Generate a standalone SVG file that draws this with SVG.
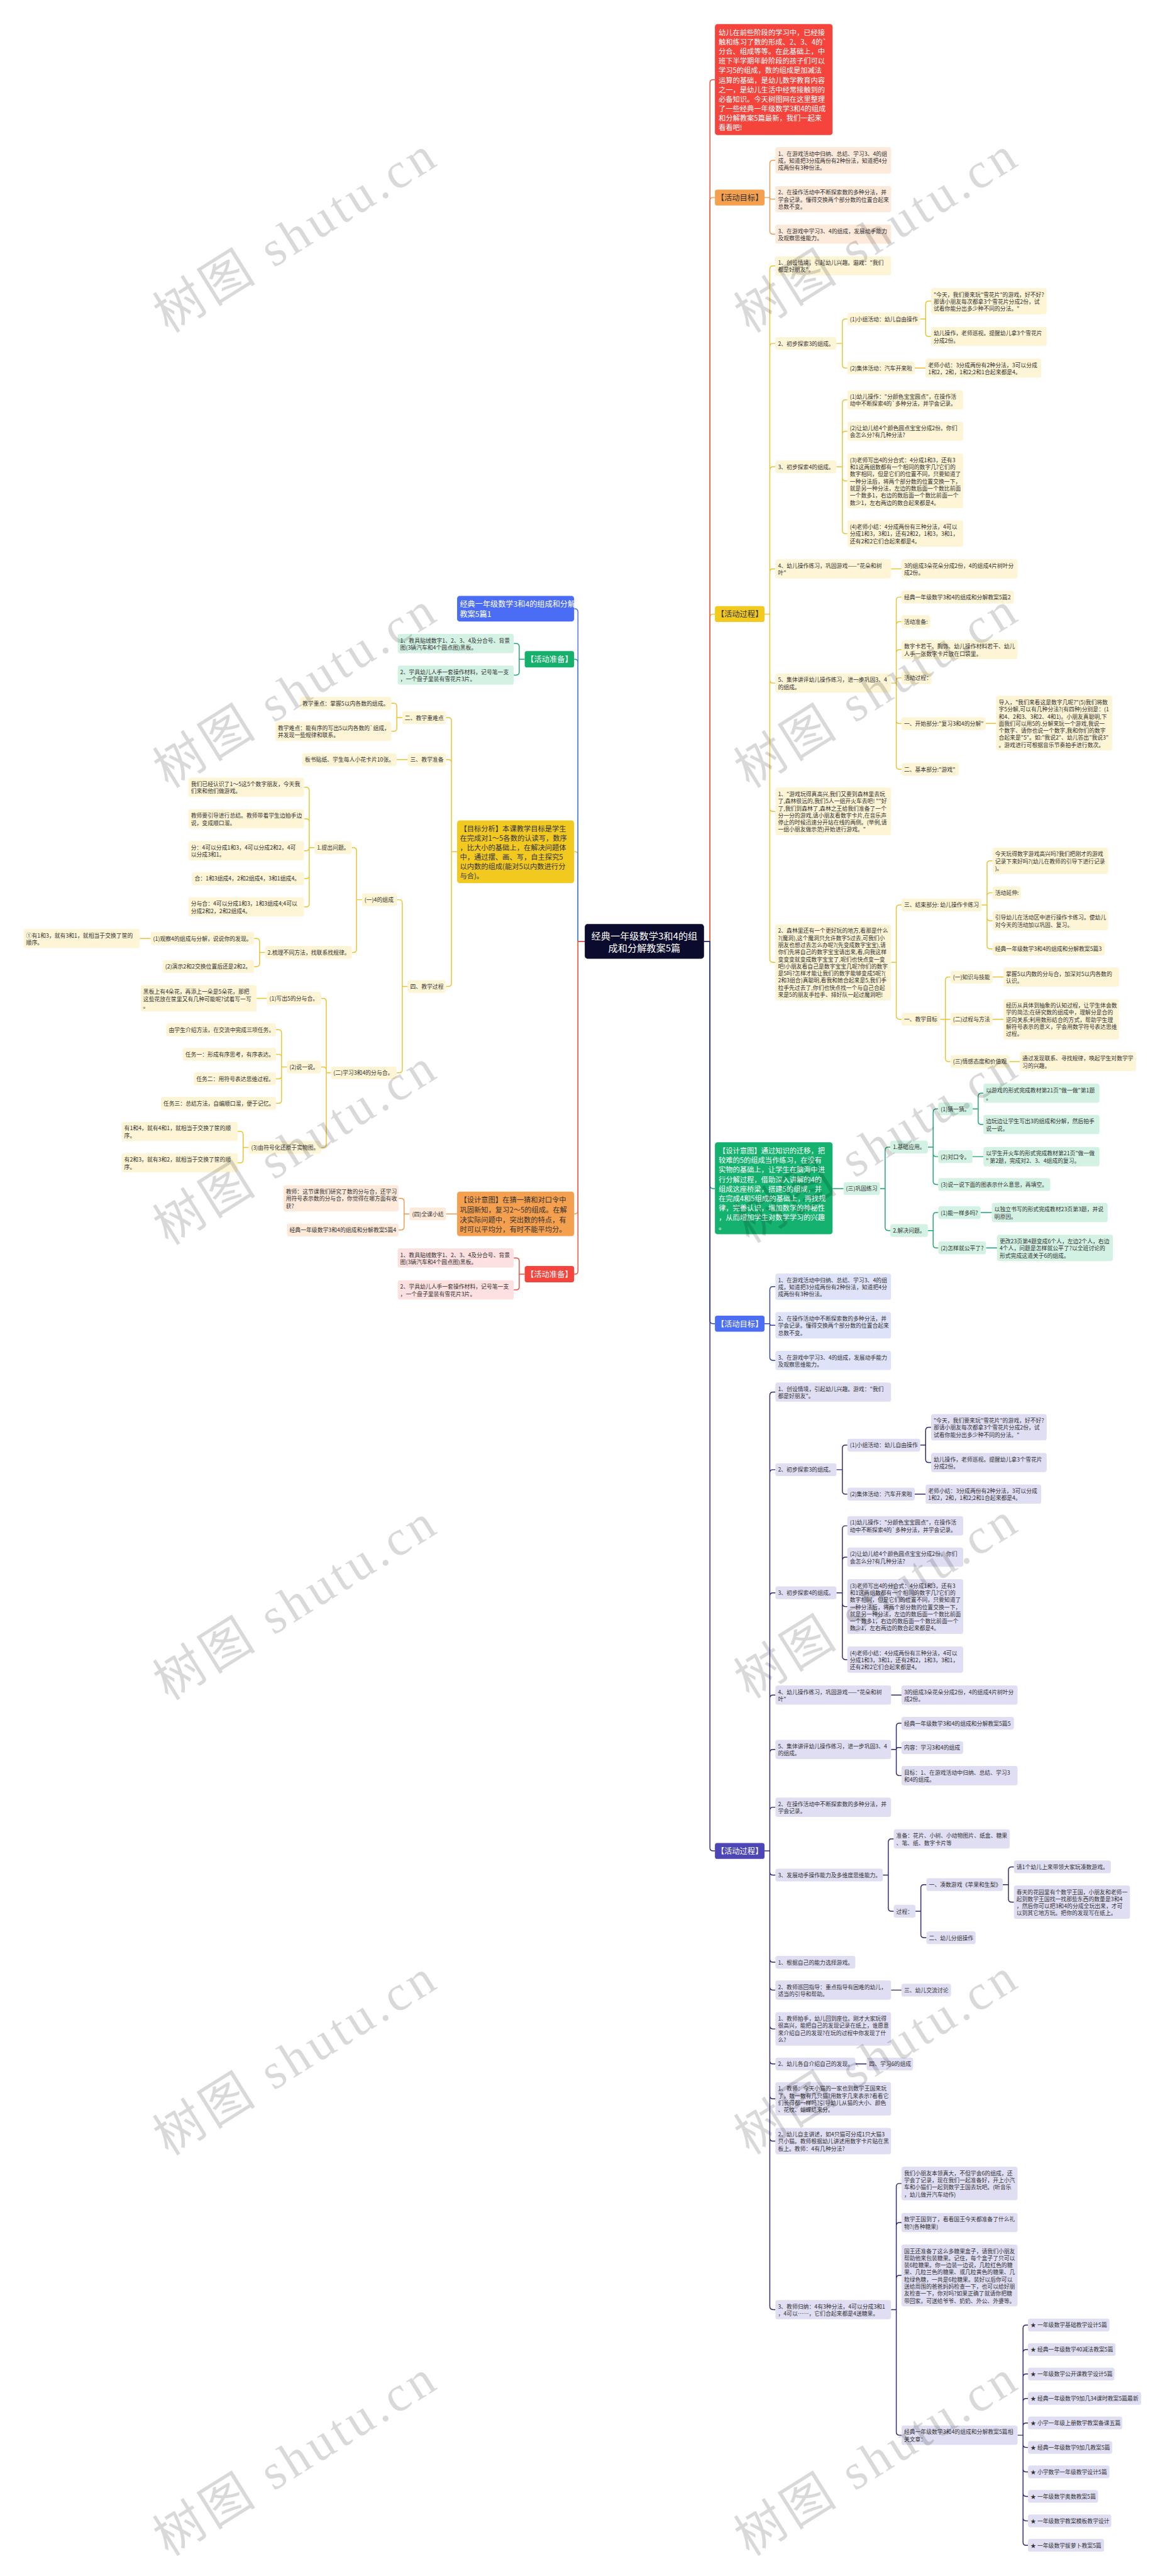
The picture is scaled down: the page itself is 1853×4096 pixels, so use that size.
<svg xmlns="http://www.w3.org/2000/svg" width="1853" height="4096" viewBox="0 0 1853 4096">
<style>
.t{font-family:"Noto Sans CJK SC","Noto Sans",sans-serif;font-size:12.2px;fill:#333;dominant-baseline:central}
.w{fill:#fff}
.big{font-size:15.6px}
.hd{font-size:17px}
.mid{text-anchor:middle}
.c{fill:none;stroke-width:2}
.sr{stroke:#ee4a40}.so{stroke:#ef9a48}.sy{stroke:#ebc22c}.sg{stroke:#17a86c}.sb{stroke:#33449e}.sp{stroke:#2b2873}.sbl{stroke:#4b6df6}
.fo{fill:#fdeadb}.fy{fill:#fdf5d5}.fg{fill:#d3f2e4}.fb{fill:#dfe3fa}.fp{fill:#e0def3}.fr{fill:#fde0e0}
.wm{font-family:"Liberation Serif","Noto Sans CJK SC",serif;font-size:110px;fill:#000;fill-opacity:0.15;text-anchor:middle;dominant-baseline:central}
</style>
<rect width="1853" height="4096" fill="#fff"/>
<g transform="scale(0.72383)">
<g id="connectors">
<path class="c sy" d="M1547 2068H1560V1356Q1560 1349 1567 1349H1571"/>
<path class="c so" d="M1547 2068H1560V441Q1560 434 1567 434H1571"/>
<path class="c sr" d="M1547 2068H1560V182Q1560 175 1567 175H1571"/>
<path class="c sg" d="M1547 2068H1560V2604Q1560 2611 1567 2611H1571"/>
<path class="c sb" d="M1547 2068H1560V2900.8Q1560 2907.8 1567 2907.8H1571"/>
<path class="c sp" d="M1547 2068H1560V4059Q1560 4066 1567 4066H1571"/>
<path class="c sy" d="M1285 2068H1270V1878Q1270 1871 1263 1871H1261.6"/>
<path class="c sg" d="M1285 2068H1270V1455.3Q1270 1448.3 1263 1448.3H1261.6"/>
<path class="c sbl" d="M1285 2068H1270V1344.2Q1270 1337.2 1263 1337.2H1261.6"/>
<path class="c so" d="M1285 2068H1270V2659.6Q1270 2666.6 1263 2666.6H1261.6"/>
<path class="c sr" d="M1285 2068H1270V2792Q1270 2799 1263 2799H1261.6"/>
<path class="c so" d="M1680 434H1691.6V359.3Q1691.6 352.3 1698.6 352.3H1704M1680 434H1691.6Q1691.6 437.4 1695 437.4H1704M1680 434H1691.6V507.4Q1691.6 514.4 1698.6 514.4H1704"/>
<path class="c sy" d="M1680 1349H1691.6V591Q1691.6 584 1698.6 584H1704M1680 1349H1691.6V761.5Q1691.6 754.5 1698.6 754.5H1704M1680 1349H1691.6V1032.5Q1691.6 1025.5 1698.6 1025.5H1704M1680 1349H1691.6V1256.5Q1691.6 1249.5 1698.6 1249.5H1704M1680 1349H1691.6V1493.5Q1691.6 1500.5 1698.6 1500.5H1704M1680 1349H1691.6V1775.5Q1691.6 1782.5 1698.6 1782.5H1704M1680 1349H1691.6V2107Q1691.6 2114 1698.6 2114H1704"/>
<path class="c sy" d="M1838 754.5H1851V707.8Q1851 700.8 1858 700.8H1862M1838 754.5H1851V801.5Q1851 808.5 1858 808.5H1862M2022 700.8H2034V668.5Q2034 661.5 2041 661.5H2046M2022 700.8H2034V732.2Q2034 739.2 2041 739.2H2046M2010 808.5H2034"/>
<path class="c sy" d="M1838 1025.5H1851V885.3Q1851 878.3 1858 878.3H1862M1838 1025.5H1851V954.3Q1851 947.3 1858 947.3H1862M1838 1025.5H1851V1049.5Q1851 1056.5 1858 1056.5H1862M1838 1025.5H1851V1165.2Q1851 1172.2 1858 1172.2H1862M1958 1249.5H1981"/>
<path class="c sy" d="M1958 1500.5H1969.5V1318.6Q1969.5 1311.6 1976.5 1311.6H1981M1958 1500.5H1969.5V1372.6Q1969.5 1365.6 1976.5 1365.6H1981M1958 1500.5H1969.5V1434Q1969.5 1427 1976.5 1427H1981M1958 1500.5H1969.5V1496Q1969.5 1489 1976.5 1489H1981M1958 1500.5H1969.5V1582.5Q1969.5 1589.5 1976.5 1589.5H1981M1958 1500.5H1969.5V1683Q1969.5 1690 1976.5 1690H1981M2166 1589H2189"/>
<path class="c sy" d="M1958 2114H1969.5V1995Q1969.5 1988 1976.5 1988H1981M1958 2114H1969.5V2232Q1969.5 2239 1976.5 2239H1981M2157 1988H2169V1898Q2169 1891 2176 1891H2181M2157 1988H2169V1968.3Q2169 1961.3 2176 1961.3H2181M2157 1988H2169V2015.5Q2169 2022.5 2176 2022.5H2181M2157 1988H2169V2077.4Q2169 2084.4 2176 2084.4H2181M2066 2239H2077.5V2153.3Q2077.5 2146.3 2084.5 2146.3H2088.5M2066 2239H2088.5M2066 2239H2077.5V2325Q2077.5 2332 2084.5 2332H2088.5M2181 2146.3H2205M2181 2239H2205M2218 2332H2241"/>
<path class="c sg" d="M1829.5 2611H1853.6M1933.6 2611H1945V2526.8Q1945 2519.8 1952 2519.8H1956.4M1933.6 2611H1945V2696.2Q1945 2703.2 1952 2703.2H1956.4M2039 2519.8H2050.5V2442.9Q2050.5 2435.9 2057.5 2435.9H2061.8M2039 2519.8H2050.5V2533.8Q2050.5 2540.8 2057.5 2540.8H2061.8M2039 2519.8H2050.5V2595Q2050.5 2602 2057.5 2602H2061.8M2137 2435.9H2149.5V2408.4Q2149.5 2401.4 2156.5 2401.4H2161M2137 2435.9H2149.5V2463.3Q2149.5 2470.3 2156.5 2470.3H2161M2137 2540.8H2161M2039 2703.2H2050.5V2670.7Q2050.5 2663.7 2057.5 2663.7H2061.8M2039 2703.2H2050.5V2734.3Q2050.5 2741.3 2057.5 2741.3H2061.8M2154.8 2663.7H2179.5M2166.8 2741.3H2191"/>
<path class="c sb" d="M1680 2907.8H1691.6V2833.4Q1691.6 2826.4 1698.6 2826.4H1704M1680 2907.8H1691.6Q1691.6 2911.2 1695 2911.2H1704M1680 2907.8H1691.6V2981.5Q1691.6 2988.5 1698.6 2988.5H1704"/>
<path class="c sp" d="M1680 4066H1691.6V3065Q1691.6 3058 1698.6 3058H1704M1680 4066H1691.6V3235.5Q1691.6 3228.5 1698.6 3228.5H1704M1680 4066H1691.6V3506Q1691.6 3499 1698.6 3499H1704M1680 4066H1691.6V3730.5Q1691.6 3723.5 1698.6 3723.5H1704M1680 4066H1691.6V3850Q1691.6 3843 1698.6 3843H1704M1680 4066H1691.6V3977Q1691.6 3970 1698.6 3970H1704M1680 4066H1691.6V4112Q1691.6 4119 1698.6 4119H1704M1680 4066H1691.6V4303.5Q1691.6 4310.5 1698.6 4310.5H1704M1680 4066H1691.6V4364.7Q1691.6 4371.7 1698.6 4371.7H1704M1680 4066H1691.6V4450Q1691.6 4457 1698.6 4457H1704M1680 4066H1691.6V4527Q1691.6 4534 1698.6 4534H1704M1680 4066H1691.6V4603.5Q1691.6 4610.5 1698.6 4610.5H1704M1680 4066H1691.6V4696.4Q1691.6 4703.4 1698.6 4703.4H1704M1680 4066H1691.6V5066.6Q1691.6 5073.6 1698.6 5073.6H1704"/>
<path class="c sp" d="M1838 3228.5H1851V3181.5Q1851 3174.5 1858 3174.5H1862M1838 3228.5H1851V3275.2Q1851 3282.2 1858 3282.2H1862M2022 3174.5H2034V3142.3Q2034 3135.3 2041 3135.3H2046M2022 3174.5H2034V3205.7Q2034 3212.7 2041 3212.7H2046M2010 3282.2H2034"/>
<path class="c sp" d="M1838 3499H1851V3358.8Q1851 3351.8 1858 3351.8H1862M1838 3499H1851V3427.7Q1851 3420.7 1858 3420.7H1862M1838 3499H1851V3522.3Q1851 3529.3 1858 3529.3H1862M1838 3499H1851V3638.8Q1851 3645.8 1858 3645.8H1862M1958 3723.5H1981"/>
<path class="c sp" d="M1958 3843H1969.5V3792.5Q1969.5 3785.5 1976.5 3785.5H1981M1958 3843H1969.5Q1969.5 3839 1973.5 3839H1981M1958 3843H1969.5V3893.6Q1969.5 3900.6 1976.5 3900.6H1981"/>
<path class="c sp" d="M1940 4119H1952V4046.5Q1952 4039.5 1959 4039.5H1964M1940 4119H1952V4191.5Q1952 4198.5 1959 4198.5H1964M2011.7 4198.5H2023.5V4147Q2023.5 4140 2030.5 4140H2035.8M2011.7 4198.5H2023.5V4249.6Q2023.5 4256.6 2030.5 4256.6H2035.8M2203.6 4140H2216V4108Q2216 4101 2223 4101H2228M2203.6 4140H2216V4171.5Q2216 4178.5 2223 4178.5H2228M1958 4371.7H1981M1879.6 4534H1904.3"/>
<path class="c sp" d="M1958 5073.6H1969.5V4803.5Q1969.5 4796.5 1976.5 4796.5H1981M1958 5073.6H1969.5V4889.4Q1969.5 4882.4 1976.5 4882.4H1981M1958 5073.6H1969.5V5005.5Q1969.5 4998.5 1976.5 4998.5H1981M1958 5073.6H1969.5V5342.5Q1969.5 5349.5 1976.5 5349.5H1981"/>
<path class="c sp" d="M2236 5349.5H2248V5114.5Q2248 5107.5 2255 5107.5H2259M2236 5349.5H2248V5168.3Q2248 5161.3 2255 5161.3H2259M2236 5349.5H2248V5222Q2248 5215 2255 5215H2259M2236 5349.5H2248V5275.8Q2248 5268.8 2255 5268.8H2259M2236 5349.5H2248V5329.6Q2248 5322.6 2255 5322.6H2259M2236 5349.5H2248V5369.4Q2248 5376.4 2255 5376.4H2259M2236 5349.5H2248V5423.1Q2248 5430.1 2255 5430.1H2259M2236 5349.5H2248V5476.9Q2248 5483.9 2255 5483.9H2259M2236 5349.5H2248V5530.7Q2248 5537.7 2255 5537.7H2259M2236 5349.5H2248V5584.4Q2248 5591.4 2255 5591.4H2259"/>
<path class="c sg" d="M1153 1448.3H1141V1420.6Q1141 1413.6 1134 1413.6H1129M1153 1448.3H1141V1476Q1141 1483 1134 1483H1129"/>
<path class="c sy" d="M1004.4 1871H992V1583.4Q992 1576.4 985 1576.4H980M1004.4 1871H992V1675.6Q992 1668.6 985 1668.6H980M1004.4 1871H992V2160Q992 2167 985 2167H980M884 1576.4H872V1552Q872 1545 865 1545H860M884 1576.4H872V1599.4Q872 1606.4 865 1606.4H860M896 1668.6H871.8M896 2167H884V1983.5Q884 1976.5 877 1976.5H872M896 2167H884V2349.6Q884 2356.6 877 2356.6H872"/>
<path class="c sy" d="M795.5 1976.5H783.5V1869Q783.5 1862 776.5 1862H773M795.5 1976.5H783.5V2085.3Q783.5 2092.3 776.5 2092.3H773M691 1862H679.5V1736.3Q679.5 1729.3 672.5 1729.3H668M691 1862H679.5V1805.7Q679.5 1798.7 672.5 1798.7H668M691 1862H679.5V1861.8Q679.5 1868.8 672.5 1868.8H668M691 1862H679.5V1923Q679.5 1930 672.5 1930H668M691 1862H679.5V1985.2Q679.5 1992.2 672.5 1992.2H668M582.5 2092.3H570.5V2068.5Q570.5 2061.5 563.5 2061.5H558.4M582.5 2092.3H570.5V2116.3Q570.5 2123.3 563.5 2123.3H558.4M331 2061.5H307"/>
<path class="c sy" d="M727 2356.6H717V2200.2Q717 2193.2 710 2193.2H705.5M727 2356.6H717V2350.9Q717 2343.9 710 2343.9H705.5M727 2356.6H717V2513.6Q717 2520.6 710 2520.6H705.5M586.5 2193.2H564M630.7 2343.9H618.7V2269Q618.7 2262 611.7 2262H606.6M630.7 2343.9H618.7V2323Q618.7 2316 611.7 2316H606.6M630.7 2343.9H618.7V2363Q618.7 2370 611.7 2370H606.6M630.7 2343.9H618.7V2416.7Q618.7 2423.7 611.7 2423.7H606.6M546.4 2520.6H534.3V2492.3Q534.3 2485.3 527.3 2485.3H522.3M546.4 2520.6H534.3V2547.4Q534.3 2554.4 527.3 2554.4H522.3"/>
<path class="c so" d="M1004.4 2666.6H980M900 2666.6H888V2639.4Q888 2632.4 881 2632.4H876M900 2666.6H888V2695Q888 2702 881 2702H876"/>
<path class="c sr" d="M1153 2799H1141V2770.3Q1141 2763.3 1134 2763.3H1129M1153 2799H1141V2826.5Q1141 2833.5 1134 2833.5H1129"/>
</g>
<g id="center"><rect x="1285" y="2030" width="262" height="76" rx="6" fill="#0b0b2e"/><text class="t w mid" style="font-size:21px"><tspan x="1416" y="2055">经典一年级数学3和4的组</tspan><tspan x="1416" y="2081">成和分解教案5篇</tspan></text></g>
<g id="intro"><rect x="1571" y="52.8" width="258.5" height="244" rx="6" fill="#f4443b"/><text class="t w big"><tspan x="1579" y="70.8">幼儿在前些阶段的学习中，已经接</tspan><tspan x="1579" y="91.6">触和练习了数的形成、2、3、4的`</tspan><tspan x="1579" y="112.4">分合、组成等等。在此基础上，中</tspan><tspan x="1579" y="133.2">班下半学期年龄阶段的孩子们可以</tspan><tspan x="1579" y="154">学习5的组成，数的组成是加减法</tspan><tspan x="1579" y="174.8">运算的基础，是幼儿数学教育内容</tspan><tspan x="1579" y="195.6">之一，是幼儿生活中经常接触到的</tspan><tspan x="1579" y="216.4">必备知识。今天树图网在这里整理</tspan><tspan x="1579" y="237.2">了一些经典一年级数学3和4的组成</tspan><tspan x="1579" y="258">和分解教案5篇最新，我们一起来</tspan><tspan x="1579" y="278.8">看看吧!</tspan></text></g>
<g id="goal1"><rect x="1571" y="416.5" width="109" height="35" rx="5" fill="#f5a04e"/><text class="t hd mid" x="1625.5" y="434">【活动目标】</text></g>
<g id="o1"><rect class="fo" x="1704" y="323.4" width="254" height="57.8" rx="5"/><text class="t"><tspan x="1709.5" y="336.7">1、在游戏活动中归纳、总结、学习3、4的组</tspan><tspan x="1709.5" y="352.3">成，知道把3分成两份有2种份法，知道把4分</tspan><tspan x="1709.5" y="367.9">成两份有3种份法。</tspan></text></g>
<g id="o2"><rect class="fo" x="1704" y="408.5" width="254" height="57.8" rx="5"/><text class="t"><tspan x="1709.5" y="421.8">2、在操作活动中不断探索数的多种分法，并</tspan><tspan x="1709.5" y="437.4">学会记录。懂得交换两个部分数的位置合起来</tspan><tspan x="1709.5" y="453">总数不变。</tspan></text></g>
<g id="o3"><rect class="fo" x="1704" y="493.3" width="254" height="42.2" rx="5"/><text class="t"><tspan x="1709.5" y="506.6">3、在游戏中学习3、4的组成，发展动手能力</tspan><tspan x="1709.5" y="522.2">及观察思维能力。</tspan></text></g>
<g id="proc1"><rect x="1571" y="1331.5" width="109" height="35" rx="5" fill="#f2c91f"/><text class="t hd mid" x="1625.5" y="1349">【活动过程】</text></g>
<g id="y1"><rect class="fy" x="1704" y="562.9" width="254" height="42.2" rx="5"/><text class="t"><tspan x="1709.5" y="576.2">1、创设情境，引起幼儿兴趣。游戏：&quot;我们</tspan><tspan x="1709.5" y="591.8">都是好朋友&quot;。</tspan></text></g>
<g id="y2"><rect class="fy" x="1704" y="740.5" width="134" height="28" rx="5"/><text class="t" x="1709.5" y="754.5">2、初步探索3的组成。</text></g>
<g id="y2a"><rect class="fy" x="1862" y="686.8" width="160" height="28" rx="5"/><text class="t" x="1867.5" y="700.8">(1)小组活动：幼儿自由操作</text></g>
<g id="y2a1"><rect class="fy" x="2046" y="632.6" width="254" height="57.8" rx="5"/><text class="t"><tspan x="2051.5" y="645.9">&quot;今天，我们要来玩&quot;雪花片&quot;的游戏，好不好?</tspan><tspan x="2051.5" y="661.5">那请小朋友每次都拿3个雪花片分成2份，试</tspan><tspan x="2051.5" y="677.1">试看你能分出多少种不同的分法。&quot;</tspan></text></g>
<g id="y2a2"><rect class="fy" x="2046" y="718.1" width="254" height="42.2" rx="5"/><text class="t"><tspan x="2051.5" y="731.4">幼儿操作，老师巡视。提醒幼儿拿3个雪花片</tspan><tspan x="2051.5" y="747">分成2份。</tspan></text></g>
<g id="y2b"><rect class="fy" x="1862" y="794.5" width="148" height="28" rx="5"/><text class="t" x="1867.5" y="808.5">(2)集体活动：汽车开来啦</text></g>
<g id="y2b1"><rect class="fy" x="2034" y="787.4" width="254" height="42.2" rx="5"/><text class="t"><tspan x="2039.5" y="800.7">老师小结：3分成两份有2种分法，3可以分成</tspan><tspan x="2039.5" y="816.3">1和2，2和，1和2;2和1合起来都是4。</tspan></text></g>
<g id="y3"><rect class="fy" x="1704" y="1011.5" width="134" height="28" rx="5"/><text class="t" x="1709.5" y="1025.5">3、初步探索4的组成。</text></g>
<g id="y3a"><rect class="fy" x="1862" y="857.2" width="254.5" height="42.2" rx="5"/><text class="t"><tspan x="1867.5" y="870.5">(1)幼儿操作：&quot;分颜色宝宝圆点&quot;，在操作活</tspan><tspan x="1867.5" y="886.1">动中不断探索4的`多种分法，并学会记录。</tspan></text></g>
<g id="y3b"><rect class="fy" x="1862" y="926.2" width="254.5" height="42.2" rx="5"/><text class="t"><tspan x="1867.5" y="939.5">(2)让幼儿给4个颜色圆点宝宝分成2份。你们</tspan><tspan x="1867.5" y="955.1">会怎么分?有几种分法?</tspan></text></g>
<g id="y3c"><rect class="fy" x="1862" y="996.4" width="254.5" height="120.2" rx="5"/><text class="t"><tspan x="1867.5" y="1009.7">(3)老师写出4的分合式：4分成1和3，还有3</tspan><tspan x="1867.5" y="1025.3">和1这两组数都有一个相同的数字几?它们的</tspan><tspan x="1867.5" y="1040.9">数字相同，但是它们的位置不同，只要知道了</tspan><tspan x="1867.5" y="1056.5">一种分法后，将两个部分数的位置交换一下，</tspan><tspan x="1867.5" y="1072.1">就是另一种分法，左边的数后面一个数比前面</tspan><tspan x="1867.5" y="1087.7">一个数多1，右边的数后面一个数比前面一个</tspan><tspan x="1867.5" y="1103.3">数少1，左右两边的数合起来都是4。</tspan></text></g>
<g id="y3d"><rect class="fy" x="1862" y="1143.3" width="254.5" height="57.8" rx="5"/><text class="t"><tspan x="1867.5" y="1156.6">(4)老师小结：4分成两份有三种分法，4可以</tspan><tspan x="1867.5" y="1172.2">分成1和3，3和1，还有2和2，1和3，3和1，</tspan><tspan x="1867.5" y="1187.8">还有2和2它们合起来都是4。</tspan></text></g>
<g id="y4"><rect class="fy" x="1704" y="1228.4" width="254" height="42.2" rx="5"/><text class="t"><tspan x="1709.5" y="1241.7">4、幼儿操作练习，巩固游戏——&quot;花朵和树</tspan><tspan x="1709.5" y="1257.3">叶&quot;</tspan></text></g>
<g id="y4a"><rect class="fy" x="1981" y="1228.4" width="255" height="42.2" rx="5"/><text class="t"><tspan x="1986.5" y="1241.7">3的组成3朵花朵分成2份，4的组成4片树叶分</tspan><tspan x="1986.5" y="1257.3">成2份。</tspan></text></g>
<g id="y5"><rect class="fy" x="1704" y="1479.4" width="254" height="42.2" rx="5"/><text class="t"><tspan x="1709.5" y="1492.7">5、集体讲评幼儿操作练习，进一步巩固3、4</tspan><tspan x="1709.5" y="1508.3">的组成。</tspan></text></g>
<g id="y5a"><rect class="fy" x="1981" y="1297.6" width="247" height="28" rx="5"/><text class="t" x="1986.5" y="1311.6">经典一年级数学3和4的组成和分解教案5篇2</text></g>
<g id="y5b"><rect class="fy" x="1981" y="1351.6" width="63" height="28" rx="5"/><text class="t" x="1986.5" y="1365.6">活动准备:</text></g>
<g id="y5c"><rect class="fy" x="1981" y="1405.9" width="255" height="42.2" rx="5"/><text class="t"><tspan x="1986.5" y="1419.2">数字卡若干、胸饰、幼儿操作材料若干、幼儿</tspan><tspan x="1986.5" y="1434.8">人手一张数字卡片放在口袋里。</tspan></text></g>
<g id="y5d"><rect class="fy" x="1981" y="1475" width="66" height="28" rx="5"/><text class="t" x="1986.5" y="1489">活动过程：</text></g>
<g id="y5e"><rect class="fy" x="1981" y="1575.5" width="185" height="28" rx="5"/><text class="t" x="1986.5" y="1589.5">一、开始部分:&quot;复习3和4的分解&quot;</text></g>
<g id="y5e1"><rect class="fy" x="2189" y="1528.4" width="255" height="120.2" rx="5"/><text class="t"><tspan x="2194.5" y="1541.7">导入，&quot;我们来看这是数字几呢?&quot;(5)我们将数</tspan><tspan x="2194.5" y="1557.3">字5分解,可以有几种分法?(有四种)分别是：(1</tspan><tspan x="2194.5" y="1572.9">和4、2和3、3和2、4和1)。小朋友真聪明,下</tspan><tspan x="2194.5" y="1588.5">面我们可以用5的.分解来玩一个游戏,我说一</tspan><tspan x="2194.5" y="1604.1">个数字、请你也说一个数字,我和你们的数字</tspan><tspan x="2194.5" y="1619.7">合起来是&quot;5&quot;。如:&quot;我说2&quot;、幼儿答出&quot;我说3&quot;</tspan><tspan x="2194.5" y="1635.3">。游戏进行可根据音乐节奏拍手进行数次。</tspan></text></g>
<g id="y5f"><rect class="fy" x="1981" y="1676" width="126" height="28" rx="5"/><text class="t" x="1986.5" y="1690">二、基本部分:&quot;游戏&quot;</text></g>
<g id="y6"><rect class="fy" x="1704" y="1730.2" width="254" height="104.6" rx="5"/><text class="t"><tspan x="1709.5" y="1743.5">1、&quot;游戏玩得真高兴,我们又要到森林里去玩</tspan><tspan x="1709.5" y="1759.1">了,森林很远的,我们5人一组开火车去吧! &quot;&quot;好</tspan><tspan x="1709.5" y="1774.7">了,我们到森林了,森林之王给我们准备了一个</tspan><tspan x="1709.5" y="1790.3">分一分的游戏,请小朋友看数字卡片,在音乐声</tspan><tspan x="1709.5" y="1805.9">停止的时候迅速分开站在线的两侧。(举例,请</tspan><tspan x="1709.5" y="1821.5">一组小朋友做示范)开始进行游戏。&quot;</tspan></text></g>
<g id="y7"><rect class="fy" x="1704" y="2030.5" width="254" height="167" rx="5"/><text class="t"><tspan x="1709.5" y="2043.8">2、森林里还有一个更好玩的地方,看那是什么</tspan><tspan x="1709.5" y="2059.4">?(魔洞),这个魔洞只允许数字5过去,可我们小</tspan><tspan x="1709.5" y="2075">朋友也想过去怎么办呢?(先变成数字宝宝),请</tspan><tspan x="1709.5" y="2090.6">你们先将自己的数字宝宝请出来,看,向我这样</tspan><tspan x="1709.5" y="2106.2">变变变就变成数字宝宝了,呢们也快点变一变</tspan><tspan x="1709.5" y="2121.8">吧!小朋友看自己是数字宝宝几呢?你们的数字</tspan><tspan x="1709.5" y="2137.4">是5吗?怎样才能让我们的数字能够变成5呢?(</tspan><tspan x="1709.5" y="2153">2和3组合)真聪明,看我和她合起来是5,我们手</tspan><tspan x="1709.5" y="2168.6">拉手先过去了,你们也快点找一个与自己合起</tspan><tspan x="1709.5" y="2184.2">来是5的朋友手拉手、排好队一起过魔洞吧!</tspan></text></g>
<g id="y7a"><rect class="fy" x="1981" y="1974" width="176" height="28" rx="5"/><text class="t" x="1986.5" y="1988">三、结束部分: 幼儿操作卡练习</text></g>
<g id="y7a1"><rect class="fy" x="2181" y="1862.1" width="254" height="57.8" rx="5"/><text class="t"><tspan x="2186.5" y="1875.4">今天玩得数字游戏高兴吗?我们把刚才的游戏</tspan><tspan x="2186.5" y="1891">记录下来好吗?(幼儿在教师的引导下进行记录</tspan><tspan x="2186.5" y="1906.6">)。</tspan></text></g>
<g id="y7a2"><rect class="fy" x="2181" y="1947.3" width="62" height="28" rx="5"/><text class="t" x="2186.5" y="1961.3">活动延伸:</text></g>
<g id="y7a3"><rect class="fy" x="2181" y="2001.4" width="254" height="42.2" rx="5"/><text class="t"><tspan x="2186.5" y="2014.7">引导幼儿在活动区中进行操作卡练习。使幼儿</tspan><tspan x="2186.5" y="2030.3">对今天的活动加以巩固、复习。</tspan></text></g>
<g id="y7a4"><rect class="fy" x="2181" y="2070.4" width="246.5" height="28" rx="5"/><text class="t" x="2186.5" y="2084.4">经典一年级数学3和4的组成和分解教案5篇3</text></g>
<g id="y7b"><rect class="fy" x="1981" y="2225" width="85" height="28" rx="5"/><text class="t" x="1986.5" y="2239">一、教学目标</text></g>
<g id="y7b1"><rect class="fy" x="2088.5" y="2132.3" width="92.5" height="28" rx="5"/><text class="t" x="2094" y="2146.3">(一)知识与技能</text></g>
<g id="y7b1c"><rect class="fy" x="2205" y="2125.2" width="254" height="42.2" rx="5"/><text class="t"><tspan x="2210.5" y="2138.5">掌握5以内数的分与合，加深对5以内各数的</tspan><tspan x="2210.5" y="2154.1">认识。</tspan></text></g>
<g id="y7b2"><rect class="fy" x="2088.5" y="2225" width="92.5" height="28" rx="5"/><text class="t" x="2094" y="2239">(二)过程与方法</text></g>
<g id="y7b2c"><rect class="fy" x="2205" y="2194.5" width="254" height="89" rx="5"/><text class="t"><tspan x="2210.5" y="2207.8">经历从具体到抽象的认知过程，让学生体会数</tspan><tspan x="2210.5" y="2223.4">学的简洁;在研究数的组成中，理解分是合的</tspan><tspan x="2210.5" y="2239">逆向关系;利用数形结合的方式，帮助学生理</tspan><tspan x="2210.5" y="2254.6">解符号表示的意义，学会用数学符号表达思维</tspan><tspan x="2210.5" y="2270.2">过程。</tspan></text></g>
<g id="y7b3"><rect class="fy" x="2088.5" y="2318" width="129.5" height="28" rx="5"/><text class="t" x="2094" y="2332">(三)情感态度和价值观</text></g>
<g id="y7b3c"><rect class="fy" x="2241" y="2310.9" width="255" height="42.2" rx="5"/><text class="t"><tspan x="2246.5" y="2324.2">通过发现联系、寻找规律，唤起学生对数学学</tspan><tspan x="2246.5" y="2339.8">习的兴趣。</tspan></text></g>
<g id="design1"><rect x="1571" y="2509.3" width="258.5" height="202" rx="6" fill="#15b26f"/><text class="t w big"><tspan x="1579" y="2527.2">【设计意图】通过知识的迁移，把</tspan><tspan x="1579" y="2548.1">较难的5的组成当作练习，在没有</tspan><tspan x="1579" y="2568.9">实物的基础上，让学生在脑海中进</tspan><tspan x="1579" y="2589.8">行分解过程，借助深入讲解的4的</tspan><tspan x="1579" y="2610.6">组成这座桥梁，搭建5的组成，并</tspan><tspan x="1579" y="2631.5">在完成4和5组成的基础上，再找规</tspan><tspan x="1579" y="2652.4">律，完善认识，增加数学的神秘性</tspan><tspan x="1579" y="2673.2">，从而增加学生对数学学习的兴趣</tspan><tspan x="1579" y="2694.1">。</tspan></text></g>
<g id="g1"><rect class="fg" x="1853.6" y="2597" width="80" height="28" rx="5"/><text class="t" x="1859" y="2611">(三)巩固练习</text></g>
<g id="g1a"><rect class="fg" x="1956.4" y="2505.8" width="82.6" height="28" rx="5"/><text class="t" x="1962" y="2519.8">1.基础应用。</text></g>
<g id="g1a1"><rect class="fg" x="2061.8" y="2421.9" width="75.2" height="28" rx="5"/><text class="t" x="2067.3" y="2435.9">(1)猜一猜。</text></g>
<g id="g1a1a"><rect class="fg" x="2161" y="2380.3" width="255" height="42.2" rx="5"/><text class="t"><tspan x="2166.5" y="2394.6">以游戏的形式完成教材第21页&quot;做一做&quot;第1题</tspan><tspan x="2166.5" y="2410.2">。</tspan></text></g>
<g id="g1a1b"><rect class="fg" x="2161" y="2449.2" width="255" height="42.2" rx="5"/><text class="t"><tspan x="2166.5" y="2462.5">边玩边让学生写出3的组成和分解，然后拍手</tspan><tspan x="2166.5" y="2478.1">说一说。</tspan></text></g>
<g id="g1a2"><rect class="fg" x="2061.8" y="2526.8" width="75.2" height="28" rx="5"/><text class="t" x="2067.3" y="2540.8">(2)对口令。</text></g>
<g id="g1a2a"><rect class="fg" x="2161" y="2519.7" width="255" height="42.2" rx="5"/><text class="t"><tspan x="2166.5" y="2533">以学生开火车的形式完成教材第21页&quot;做一做</tspan><tspan x="2166.5" y="2548.6">&quot; 第2题，完成对2、3、4组成的复习。</tspan></text></g>
<g id="g1a3"><rect class="fg" x="2061.8" y="2588" width="246" height="28" rx="5"/><text class="t" x="2067.3" y="2602">(3)说一说下面的图表示什么意思，再填空。</text></g>
<g id="g1b"><rect class="fg" x="1956.4" y="2689.2" width="82.6" height="28" rx="5"/><text class="t" x="1962" y="2703.2">2.解决问题。</text></g>
<g id="g1b1"><rect class="fg" x="2061.8" y="2649.7" width="93" height="28" rx="5"/><text class="t" x="2067.3" y="2663.7">(1)能一样多吗?</text></g>
<g id="g1b1a"><rect class="fg" x="2179.5" y="2642.6" width="254.5" height="42.2" rx="5"/><text class="t"><tspan x="2185" y="2655.9">以独立书写的形式完成教材23页第3题，并说</tspan><tspan x="2185" y="2671.5">明原因。</tspan></text></g>
<g id="g1b2"><rect class="fg" x="2061.8" y="2727.3" width="105" height="28" rx="5"/><text class="t" x="2067.3" y="2741.3">(2)怎样就公平了?</text></g>
<g id="g1b2a"><rect class="fg" x="2191" y="2712.4" width="254.6" height="57.8" rx="5"/><text class="t"><tspan x="2196.5" y="2725.7">更改23页第4题变成6个人，左边2个人，右边</tspan><tspan x="2196.5" y="2741.3">4个人，问题是怎样就公平了?以全班讨论的</tspan><tspan x="2196.5" y="2756.9">形式完成这道关于6的组成。</tspan></text></g>
<g id="goal2"><rect x="1571" y="2890.3" width="109" height="35" rx="5" fill="#4c6ef5"/><text class="t w hd mid" x="1625.5" y="2907.8">【活动目标】</text></g>
<g id="b1"><rect class="fb" x="1704" y="2797.5" width="254" height="57.8" rx="5"/><text class="t"><tspan x="1709.5" y="2810.8">1、在游戏活动中归纳、总结、学习3、4的组</tspan><tspan x="1709.5" y="2826.4">成，知道把3分成两份有2种份法，知道把4分</tspan><tspan x="1709.5" y="2842">成两份有3种份法。</tspan></text></g>
<g id="b2"><rect class="fb" x="1704" y="2882.3" width="254" height="57.8" rx="5"/><text class="t"><tspan x="1709.5" y="2895.6">2、在操作活动中不断探索数的多种分法，并</tspan><tspan x="1709.5" y="2911.2">学会记录。懂得交换两个部分数的位置合起来</tspan><tspan x="1709.5" y="2926.8">总数不变。</tspan></text></g>
<g id="b3"><rect class="fb" x="1704" y="2967.4" width="254" height="42.2" rx="5"/><text class="t"><tspan x="1709.5" y="2980.7">3、在游戏中学习3、4的组成，发展动手能力</tspan><tspan x="1709.5" y="2996.3">及观察思维能力。</tspan></text></g>
<g id="proc2"><rect x="1571" y="4048.5" width="109" height="35" rx="5" fill="#4c46b6"/><text class="t w hd mid" x="1625.5" y="4066">【活动过程】</text></g>
<g id="p1"><rect class="fp" x="1704" y="3036.9" width="254" height="42.2" rx="5"/><text class="t"><tspan x="1709.5" y="3050.2">1、创设情境，引起幼儿兴趣。游戏：&quot;我们</tspan><tspan x="1709.5" y="3065.8">都是好朋友&quot;。</tspan></text></g>
<g id="p2"><rect class="fp" x="1704" y="3214.5" width="134" height="28" rx="5"/><text class="t" x="1709.5" y="3228.5">2、初步探索3的组成。</text></g>
<g id="p2a"><rect class="fp" x="1862" y="3160.5" width="160" height="28" rx="5"/><text class="t" x="1867.5" y="3174.5">(1)小组活动：幼儿自由操作</text></g>
<g id="p2a1"><rect class="fp" x="2046" y="3106.4" width="254" height="57.8" rx="5"/><text class="t"><tspan x="2051.5" y="3119.7">&quot;今天，我们要来玩&quot;雪花片&quot;的游戏，好不好?</tspan><tspan x="2051.5" y="3135.3">那请小朋友每次都拿3个雪花片分成2份，试</tspan><tspan x="2051.5" y="3150.9">试看你能分出多少种不同的分法。&quot;</tspan></text></g>
<g id="p2a2"><rect class="fp" x="2046" y="3191.6" width="254" height="42.2" rx="5"/><text class="t"><tspan x="2051.5" y="3204.9">幼儿操作，老师巡视。提醒幼儿拿3个雪花片</tspan><tspan x="2051.5" y="3220.5">分成2份。</tspan></text></g>
<g id="p2b"><rect class="fp" x="1862" y="3268.2" width="148" height="28" rx="5"/><text class="t" x="1867.5" y="3282.2">(2)集体活动：汽车开来啦</text></g>
<g id="p2b1"><rect class="fp" x="2034" y="3261.1" width="254" height="42.2" rx="5"/><text class="t"><tspan x="2039.5" y="3274.4">老师小结：3分成两份有2种分法，3可以分成</tspan><tspan x="2039.5" y="3290">1和2，2和，1和2;2和1合起来都是4。</tspan></text></g>
<g id="p3"><rect class="fp" x="1704" y="3485" width="134" height="28" rx="5"/><text class="t" x="1709.5" y="3499">3、初步探索4的组成。</text></g>
<g id="p3a"><rect class="fp" x="1862" y="3330.7" width="254.5" height="42.2" rx="5"/><text class="t"><tspan x="1867.5" y="3344">(1)幼儿操作：&quot;分颜色宝宝圆点&quot;，在操作活</tspan><tspan x="1867.5" y="3359.6">动中不断探索4的`多种分法，并学会记录。</tspan></text></g>
<g id="p3b"><rect class="fp" x="1862" y="3399.6" width="254.5" height="42.2" rx="5"/><text class="t"><tspan x="1867.5" y="3412.9">(2)让幼儿给4个颜色圆点宝宝分成2份。你们</tspan><tspan x="1867.5" y="3428.5">会怎么分?有几种分法?</tspan></text></g>
<g id="p3c"><rect class="fp" x="1862" y="3469.2" width="254.5" height="120.2" rx="5"/><text class="t"><tspan x="1867.5" y="3482.5">(3)老师写出4的分合式：4分成1和3，还有3</tspan><tspan x="1867.5" y="3498.1">和1这两组数都有一个相同的数字几?它们的</tspan><tspan x="1867.5" y="3513.7">数字相同，但是它们的位置不同，只要知道了</tspan><tspan x="1867.5" y="3529.3">一种分法后，将两个部分数的位置交换一下，</tspan><tspan x="1867.5" y="3544.9">就是另一种分法，左边的数后面一个数比前面</tspan><tspan x="1867.5" y="3560.5">一个数多1，右边的数后面一个数比前面一个</tspan><tspan x="1867.5" y="3576.1">数少1，左右两边的数合起来都是4。</tspan></text></g>
<g id="p3d"><rect class="fp" x="1862" y="3616.9" width="254.5" height="57.8" rx="5"/><text class="t"><tspan x="1867.5" y="3630.2">(4)老师小结：4分成两份有三种分法，4可以</tspan><tspan x="1867.5" y="3645.8">分成1和3，3和1，还有2和2，1和3，3和1，</tspan><tspan x="1867.5" y="3661.4">还有2和2它们合起来都是4。</tspan></text></g>
<g id="p4"><rect class="fp" x="1704" y="3702.4" width="254" height="42.2" rx="5"/><text class="t"><tspan x="1709.5" y="3715.7">4、幼儿操作练习，巩固游戏——&quot;花朵和树</tspan><tspan x="1709.5" y="3731.3">叶&quot;</tspan></text></g>
<g id="p4a"><rect class="fp" x="1981" y="3702.4" width="255" height="42.2" rx="5"/><text class="t"><tspan x="1986.5" y="3715.7">3的组成3朵花朵分成2份，4的组成4片树叶分</tspan><tspan x="1986.5" y="3731.3">成2份。</tspan></text></g>
<g id="p5"><rect class="fp" x="1704" y="3821.9" width="254" height="42.2" rx="5"/><text class="t"><tspan x="1709.5" y="3835.2">5、集体讲评幼儿操作练习，进一步巩固3、4</tspan><tspan x="1709.5" y="3850.8">的组成。</tspan></text></g>
<g id="p5a"><rect class="fp" x="1981" y="3771.5" width="247" height="28" rx="5"/><text class="t" x="1986.5" y="3785.5">经典一年级数学3和4的组成和分解教案5篇5</text></g>
<g id="p5b"><rect class="fp" x="1981" y="3825" width="135.5" height="28" rx="5"/><text class="t" x="1986.5" y="3839">内容：学习3和4的组成</text></g>
<g id="p5c"><rect class="fp" x="1981" y="3879.5" width="255" height="42.2" rx="5"/><text class="t"><tspan x="1986.5" y="3892.8">目标：1、在游戏活动中归纳、总结、学习3</tspan><tspan x="1986.5" y="3908.4">和4的组成。</tspan></text></g>
<g id="p6"><rect class="fp" x="1704" y="3948.9" width="254" height="42.2" rx="5"/><text class="t"><tspan x="1709.5" y="3962.2">2、在操作活动中不断探索数的多种分法，并</tspan><tspan x="1709.5" y="3977.8">学会记录。</tspan></text></g>
<g id="p7"><rect class="fp" x="1704" y="4105" width="236" height="28" rx="5"/><text class="t" x="1709.5" y="4119">3、发展动手操作能力及多维度思维能力。</text></g>
<g id="p7a"><rect class="fp" x="1964" y="4018.4" width="254.6" height="42.2" rx="5"/><text class="t"><tspan x="1969.5" y="4031.7">准备：花片、小树、小动物图片、纸盒、糖果</tspan><tspan x="1969.5" y="4047.3">、笔、纸、数字卡片等</tspan></text></g>
<g id="p7b"><rect class="fp" x="1964" y="4184.5" width="47.7" height="28" rx="5"/><text class="t" x="1969.5" y="4198.5">过程：</text></g>
<g id="p7b1"><rect class="fp" x="2035.8" y="4126" width="167.8" height="28" rx="5"/><text class="t" x="2041.3" y="4140">一、凑数游戏《苹果和生梨》</text></g>
<g id="p7b1a"><rect class="fp" x="2228" y="4087" width="213" height="28" rx="5"/><text class="t" x="2233.5" y="4101">请1个幼儿上来带领大家玩凑数游戏。</text></g>
<g id="p7b1b"><rect class="fp" x="2228" y="4141.8" width="255" height="73.4" rx="5"/><text class="t"><tspan x="2233.5" y="4155.1">春天的花园里有个数学王国，小朋友和老师一</tspan><tspan x="2233.5" y="4170.7">起到数学王国找一找那些东西的数量是3和4</tspan><tspan x="2233.5" y="4186.3">，然后你可以把3和4的分成全玩出来，才可</tspan><tspan x="2233.5" y="4201.9">以到其它地方玩。把你的发现写在纸上。</tspan></text></g>
<g id="p7b2"><rect class="fp" x="2035.8" y="4242.6" width="108" height="28" rx="5"/><text class="t" x="2041.3" y="4256.6">二、幼儿分组操作</text></g>
<g id="p8"><rect class="fp" x="1704" y="4296.5" width="175.6" height="28" rx="5"/><text class="t" x="1709.5" y="4310.5">1、根据自己的能力选择游戏。</text></g>
<g id="p9"><rect class="fp" x="1704" y="4350.6" width="254" height="42.2" rx="5"/><text class="t"><tspan x="1709.5" y="4363.9">2、教师巡回指导：重点指导有困难的幼儿，</tspan><tspan x="1709.5" y="4379.5">适当的引导和帮助。</tspan></text></g>
<g id="p9a"><rect class="fp" x="1981" y="4357.7" width="108.8" height="28" rx="5"/><text class="t" x="1986.5" y="4371.7">三、幼儿交流讨论</text></g>
<g id="p10"><rect class="fp" x="1704" y="4420.3" width="254" height="73.4" rx="5"/><text class="t"><tspan x="1709.5" y="4433.6">1、教师拍手，幼儿回到座位。刚才大家玩得</tspan><tspan x="1709.5" y="4449.2">很高兴，能把自己的发现记录在纸上，谁愿意</tspan><tspan x="1709.5" y="4464.8">来介绍自己的发现?在玩的过程中你发现了什</tspan><tspan x="1709.5" y="4480.4">么?</tspan></text></g>
<g id="p11"><rect class="fp" x="1704" y="4520" width="175.6" height="28" rx="5"/><text class="t" x="1709.5" y="4534">2、幼儿各自介绍自己的发现。</text></g>
<g id="p11a"><rect class="fp" x="1904.3" y="4520" width="102.2" height="28" rx="5"/><text class="t" x="1909.8" y="4534">四、学习6的组成</text></g>
<g id="p12"><rect class="fp" x="1704" y="4573.8" width="254" height="73.4" rx="5"/><text class="t"><tspan x="1709.5" y="4587.1">1、教师：今天小猫的一家也到数学王国来玩</tspan><tspan x="1709.5" y="4602.7">了，数一数有几只猫?用数字几来表示?看看它</tspan><tspan x="1709.5" y="4618.3">们长得都一样吗?引导幼儿从猫的大小、颜色</tspan><tspan x="1709.5" y="4633.9">、花纹、蝴蝶结来分。</tspan></text></g>
<g id="p13"><rect class="fp" x="1704" y="4674.5" width="254" height="57.8" rx="5"/><text class="t"><tspan x="1709.5" y="4687.8">2、幼儿自主讲述，如4只猫可分成1只大猫3</tspan><tspan x="1709.5" y="4703.4">只小猫。教师根据幼儿讲述用数字卡片贴在黑</tspan><tspan x="1709.5" y="4719">板上。教师：4有几种分法?</tspan></text></g>
<g id="p14"><rect class="fp" x="1704" y="5052.5" width="254" height="42.2" rx="5"/><text class="t"><tspan x="1709.5" y="5065.8">3、教师归纳：4有3种分法，4可以分成3和1</tspan><tspan x="1709.5" y="5081.4">，4可以……，它们合起来都是4送糖果。</tspan></text></g>
<g id="p14a"><rect class="fp" x="1981" y="4759.8" width="255" height="73.4" rx="5"/><text class="t"><tspan x="1986.5" y="4773.1">我们小朋友本领真大，不但学会6的组成，还</tspan><tspan x="1986.5" y="4788.7">学会了记录，现在我们一起准备好，开上小汽</tspan><tspan x="1986.5" y="4804.3">车和小猫们一起到数学王国去玩吧。(听音乐</tspan><tspan x="1986.5" y="4819.9">，幼儿做开汽车动作)</tspan></text></g>
<g id="p14b"><rect class="fp" x="1981" y="4861.3" width="255" height="42.2" rx="5"/><text class="t"><tspan x="1986.5" y="4874.6">数学王国到了，看看国王今天都准备了什么礼</tspan><tspan x="1986.5" y="4890.2">物?(各种糖果)</tspan></text></g>
<g id="p14c"><rect class="fp" x="1981" y="4930.6" width="255" height="135.8" rx="5"/><text class="t"><tspan x="1986.5" y="4943.9">国王还准备了这么多糖果盒子，请我们小朋友</tspan><tspan x="1986.5" y="4959.5">帮助他来包装糖果。记住，每个盒子了只可以</tspan><tspan x="1986.5" y="4975.1">装6粒糖果。你一边装一边说，几粒红色的糖</tspan><tspan x="1986.5" y="4990.7">果、几粒兰色的糖果、或几粒黄色的糖果、几</tspan><tspan x="1986.5" y="5006.3">粒绿色糖，一共是6粒糖果。装好以后你可以</tspan><tspan x="1986.5" y="5021.9">送给周围的爸爸妈妈检查一下，也可以给好朋</tspan><tspan x="1986.5" y="5037.5">友检查一下，你对吗?如果正确了就请你把糖</tspan><tspan x="1986.5" y="5053.1">带回家，可送给爷爷、奶奶、外公、外婆等。</tspan></text></g>
<g id="p14d"><rect class="fp" x="1981" y="5328.4" width="255" height="42.2" rx="5"/><text class="t"><tspan x="1986.5" y="5341.7">经典一年级数学3和4的组成和分解教案5篇相</tspan><tspan x="1986.5" y="5357.3">关文章：</tspan></text></g>
<g id="rel1"><rect class="fp" x="2259" y="5093.5" width="179" height="28" rx="5"/><text class="t" x="2264.5" y="5107.5">★ 一年级数学基础教学设计5篇</text></g>
<g id="rel2"><rect class="fp" x="2259" y="5147.3" width="192" height="28" rx="5"/><text class="t" x="2264.5" y="5161.3">★ 经典一年级数学40减法教案5篇</text></g>
<g id="rel3"><rect class="fp" x="2259" y="5201" width="190" height="28" rx="5"/><text class="t" x="2264.5" y="5215">★ 一年级数学公开课教学设计5篇</text></g>
<g id="rel4"><rect class="fp" x="2259" y="5254.8" width="248.5" height="28" rx="5"/><text class="t" x="2264.5" y="5268.8">★ 经典一年级数学9加几34课时教案5篇最新</text></g>
<g id="rel5"><rect class="fp" x="2259" y="5308.6" width="207" height="28" rx="5"/><text class="t" x="2264.5" y="5322.6">★ 小学一年级上册数学教案备课五篇</text></g>
<g id="rel6"><rect class="fp" x="2259" y="5362.4" width="185" height="28" rx="5"/><text class="t" x="2264.5" y="5376.4">★ 经典一年级数学9加几教案5篇</text></g>
<g id="rel7"><rect class="fp" x="2259" y="5416.1" width="179" height="28" rx="5"/><text class="t" x="2264.5" y="5430.1">★ 小学数学一年级教学设计5篇</text></g>
<g id="rel8"><rect class="fp" x="2259" y="5469.9" width="154" height="28" rx="5"/><text class="t" x="2264.5" y="5483.9">★ 一年级数学奥数教案5篇</text></g>
<g id="rel9"><rect class="fp" x="2259" y="5523.7" width="183" height="28" rx="5"/><text class="t" x="2264.5" y="5537.7">★ 一年级数学教案模板教学设计</text></g>
<g id="rel10"><rect class="fp" x="2259" y="5577.4" width="167" height="28" rx="5"/><text class="t" x="2264.5" y="5591.4">★ 一年级数学拔萝卜教案5篇</text></g>
<g id="lb"><rect x="1004.4" y="1309" width="257.2" height="56.4" rx="6" fill="#4b6df6"/><text class="t w" style="font-size:16.8px"><tspan x="1010.5" y="1326.3">经典一年级数学3和4的组成和分解</tspan><tspan x="1010.5" y="1348">教案5篇1</tspan></text></g>
<g id="lg"><rect x="1153" y="1430.4" width="108.6" height="35.8" rx="5" fill="#16b06d"/><text class="t w hd mid" x="1207.3" y="1448.3">【活动准备】</text></g>
<g id="lg1"><rect class="fg" x="874" y="1392.5" width="255" height="42.2" rx="5"/><text class="t"><tspan x="879.5" y="1405.8">1、教具贴绒数字1、2、3、4及分合号、背景</tspan><tspan x="879.5" y="1421.4">图(3辆汽车和4个圆点图)黑板。</tspan></text></g>
<g id="lg2"><rect class="fg" x="874" y="1461.9" width="255" height="42.2" rx="5"/><text class="t"><tspan x="879.5" y="1475.2">2、学具幼儿人手一套操作材料，记号笔一支</tspan><tspan x="879.5" y="1490.8">，一个盘子里装有雪花片3片。</tspan></text></g>
<g id="ly"><rect x="1004.4" y="1802.2" width="257.2" height="137.8" rx="6" fill="#f2c91f"/><text class="t big"><tspan x="1010.5" y="1818.8">【目标分析】本课教学目标是学生</tspan><tspan x="1010.5" y="1839.7">在完成对1～5各数的认读写，数序</tspan><tspan x="1010.5" y="1860.6">，比大小的基础上，在解决问题体</tspan><tspan x="1010.5" y="1881.4">中，通过摆、画、写，自主探究5</tspan><tspan x="1010.5" y="1902.3">以内数的组成(能对5以内数进行分</tspan><tspan x="1010.5" y="1923.2">与合)。</tspan></text></g>
<g id="ly1"><rect class="fy" x="884" y="1562.4" width="96" height="28" rx="5"/><text class="t" x="889.5" y="1576.4">二、教学重难点</text></g>
<g id="ly1a"><rect class="fy" x="659" y="1531" width="201" height="28" rx="5"/><text class="t" x="664.5" y="1545">教学重点：掌握5以内各数的组成。</text></g>
<g id="ly1b"><rect class="fy" x="605" y="1585.3" width="255" height="42.2" rx="5"/><text class="t"><tspan x="610.5" y="1598.6">教学难点：能有序的写出5以内各数的`组成，</tspan><tspan x="610.5" y="1614.2">并发现一些规律和联系。</tspan></text></g>
<g id="ly2"><rect class="fy" x="896" y="1654.6" width="84" height="28" rx="5"/><text class="t" x="901.5" y="1668.6">三、教学准备</text></g>
<g id="ly2a"><rect class="fy" x="664.5" y="1654.6" width="207.3" height="28" rx="5"/><text class="t" x="670" y="1668.6">板书贴纸、学生每人小花卡片10张。</text></g>
<g id="ly3"><rect class="fy" x="896" y="2153" width="84" height="28" rx="5"/><text class="t" x="901.5" y="2167">四、教学过程</text></g>
<g id="ly3a"><rect class="fy" x="795.5" y="1962.5" width="76.5" height="28" rx="5"/><text class="t" x="801" y="1976.5">(一)4的组成</text></g>
<g id="ly3a1"><rect class="fy" x="691" y="1848" width="82" height="28" rx="5"/><text class="t" x="696.5" y="1862">1.提出问题。</text></g>
<g id="k1"><rect class="fy" x="414" y="1708.2" width="254" height="42.2" rx="5"/><text class="t"><tspan x="419.5" y="1721.5">我们已经认识了1～5这5个数字朋友，今天我</tspan><tspan x="419.5" y="1737.1">们来和他们做游戏。</tspan></text></g>
<g id="k2"><rect class="fy" x="414" y="1777.6" width="254" height="42.2" rx="5"/><text class="t"><tspan x="419.5" y="1790.9">教师要引导进行总结。教师带着学生边拍手边</tspan><tspan x="419.5" y="1806.5">说，变成顺口溜。</tspan></text></g>
<g id="k3"><rect class="fy" x="414" y="1847.7" width="254" height="42.2" rx="5"/><text class="t"><tspan x="419.5" y="1861">分：4可以分成1和3，4可以分成2和2，4可</tspan><tspan x="419.5" y="1876.6">以分成3和1。</tspan></text></g>
<g id="k4"><rect class="fy" x="422" y="1916" width="246" height="28" rx="5"/><text class="t" x="427.5" y="1930">合：1和3组成4，2和2组成4，3和1组成4。</text></g>
<g id="k5"><rect class="fy" x="414" y="1971.1" width="254" height="42.2" rx="5"/><text class="t"><tspan x="419.5" y="1984.4">分与合：4可以分成1和3，1和3组成4;4可以</tspan><tspan x="419.5" y="2000">分成2和2，2和2组成4。</tspan></text></g>
<g id="ly3a2"><rect class="fy" x="582.5" y="2078.3" width="190.5" height="28" rx="5"/><text class="t" x="588" y="2092.3">2.梳理不同方法，找联系找规律。</text></g>
<g id="m1"><rect class="fy" x="331" y="2047.5" width="227.4" height="28" rx="5"/><text class="t" x="336.5" y="2061.5">(1)观察4的组成与分解，说说你的发现。</text></g>
<g id="m1c"><rect class="fy" x="52" y="2040.4" width="255" height="42.2" rx="5"/><text class="t"><tspan x="57.5" y="2053.7">①有1和3，就有3和1，就相当于交换了筐的</tspan><tspan x="57.5" y="2069.3">顺序。</tspan></text></g>
<g id="m2"><rect class="fy" x="357.5" y="2109.3" width="200.9" height="28" rx="5"/><text class="t" x="363" y="2123.3">(2)演示2和2交换位置后还是2和2。</text></g>
<g id="ly3b"><rect class="fy" x="727" y="2342.6" width="145" height="28" rx="5"/><text class="t" x="732.5" y="2356.6">(二)学习3和4的分与合。</text></g>
<g id="ly3b1"><rect class="fy" x="586.5" y="2179.2" width="119" height="28" rx="5"/><text class="t" x="592" y="2193.2">(1)写出5的分与合。</text></g>
<g id="ly3b1a"><rect class="fy" x="309.3" y="2164.3" width="254.7" height="57.8" rx="5"/><text class="t"><tspan x="314.8" y="2177.6">黑板上有4朵花，再添上一朵是5朵花，那把</tspan><tspan x="314.8" y="2193.2">这些花放在筐里又有几种可能呢?试着写一写</tspan><tspan x="314.8" y="2208.8">。</tspan></text></g>
<g id="ly3b2"><rect class="fy" x="630.7" y="2329.9" width="74.8" height="28" rx="5"/><text class="t" x="636.2" y="2343.9">(2)说一说。</text></g>
<g id="tk0"><rect class="fy" x="365.5" y="2248" width="241" height="28" rx="5"/><text class="t" x="371" y="2262">由学生介绍方法，在交流中完成三项任务。</text></g>
<g id="tk1"><rect class="fy" x="401.7" y="2302" width="205" height="28" rx="5"/><text class="t" x="407.2" y="2316">任务一：形成有序思考，有序表达。</text></g>
<g id="tk2"><rect class="fy" x="425.8" y="2356" width="180.8" height="28" rx="5"/><text class="t" x="431.3" y="2370">任务二：用符号表达思维过程。</text></g>
<g id="tk3"><rect class="fy" x="353.5" y="2409.7" width="253" height="28" rx="5"/><text class="t" x="359" y="2423.7">任务三：总结方法，自编顺口溜，便于记忆。</text></g>
<g id="ly3b3"><rect class="fy" x="546.4" y="2506.6" width="159" height="28" rx="5"/><text class="t" x="551.9" y="2520.6">(3)由符号化还原于实物图。</text></g>
<g id="ly3b3a"><rect class="fy" x="267.5" y="2464.2" width="254.8" height="42.2" rx="5"/><text class="t"><tspan x="273" y="2477.5">有1和4，就有4和1，就相当于交换了筐的顺</tspan><tspan x="273" y="2493.1">序。</tspan></text></g>
<g id="ly3b3b"><rect class="fy" x="267.5" y="2533.3" width="254.8" height="42.2" rx="5"/><text class="t"><tspan x="273" y="2546.6">有2和3，就有3和2，就相当于交换了筐的顺</tspan><tspan x="273" y="2562.2">序。</tspan></text></g>
<g id="lo"><rect x="1004.4" y="2617.8" width="257.2" height="97.6" rx="6" fill="#f5a04e"/><text class="t big"><tspan x="1010.5" y="2635">【设计意图】在猜一猜和对口令中</tspan><tspan x="1010.5" y="2656.6">巩固新知，复习2～5的组成。在解</tspan><tspan x="1010.5" y="2678.2">决实际问题中，突出数的特点，有</tspan><tspan x="1010.5" y="2699.8">时可以平均分，有时不能平均分。</tspan></text></g>
<g id="lo1"><rect class="fo" x="900" y="2652.6" width="80" height="28" rx="5"/><text class="t" x="905.5" y="2666.6">(四)全课小结</text></g>
<g id="lo1a"><rect class="fo" x="622.7" y="2603.5" width="253.3" height="57.8" rx="5"/><text class="t"><tspan x="628.2" y="2616.8">教师：这节课我们研究了数的分与合，还学习</tspan><tspan x="628.2" y="2632.4">用符号表示数的分与合，你觉得在哪方面有收</tspan><tspan x="628.2" y="2648">获?</tspan></text></g>
<g id="lo1b"><rect class="fo" x="630.7" y="2688" width="245.3" height="28" rx="5"/><text class="t" x="636.2" y="2702">经典一年级数学3和4的组成和分解教案5篇4</text></g>
<g id="lr"><rect x="1153" y="2781" width="108.6" height="35.8" rx="5" fill="#f4443b"/><text class="t w hd mid" x="1207.3" y="2799">【活动准备】</text></g>
<g id="lr1"><rect class="fr" x="874" y="2742.2" width="255" height="42.2" rx="5"/><text class="t"><tspan x="879.5" y="2755.5">1、教具贴绒数字1、2、3、4及分合号、背景</tspan><tspan x="879.5" y="2771.1">图(3辆汽车和4个圆点图)黑板。</tspan></text></g>
<g id="lr2"><rect class="fr" x="874" y="2812.4" width="255" height="42.2" rx="5"/><text class="t"><tspan x="879.5" y="2825.8">2、学具幼儿人手一套操作材料，记号笔一支</tspan><tspan x="879.5" y="2841.4">，一个盘子里装有雪花片3片。</tspan></text></g>
<g id="watermark">
<text class="wm" transform="translate(1924 516) rotate(-32)" textLength="700">树图 shutu.cn</text>
<text class="wm" transform="translate(1924 1516) rotate(-32)" textLength="700">树图 shutu.cn</text>
<text class="wm" transform="translate(1924 2516) rotate(-32)" textLength="700">树图 shutu.cn</text>
<text class="wm" transform="translate(1924 3516) rotate(-32)" textLength="700">树图 shutu.cn</text>
<text class="wm" transform="translate(1924 4518) rotate(-32)" textLength="700">树图 shutu.cn</text>
<text class="wm" transform="translate(1924 5400) rotate(-32)" textLength="700">树图 shutu.cn</text>
<text class="wm" transform="translate(647 516) rotate(-32)" textLength="700">树图 shutu.cn</text>
<text class="wm" transform="translate(647 1516) rotate(-32)" textLength="700">树图 shutu.cn</text>
<text class="wm" transform="translate(647 2520) rotate(-32)" textLength="700">树图 shutu.cn</text>
<text class="wm" transform="translate(647 3520) rotate(-32)" textLength="700">树图 shutu.cn</text>
<text class="wm" transform="translate(647 4520) rotate(-32)" textLength="700">树图 shutu.cn</text>
<text class="wm" transform="translate(647 5400) rotate(-32)" textLength="700">树图 shutu.cn</text>
</g>
</g>
</svg>
